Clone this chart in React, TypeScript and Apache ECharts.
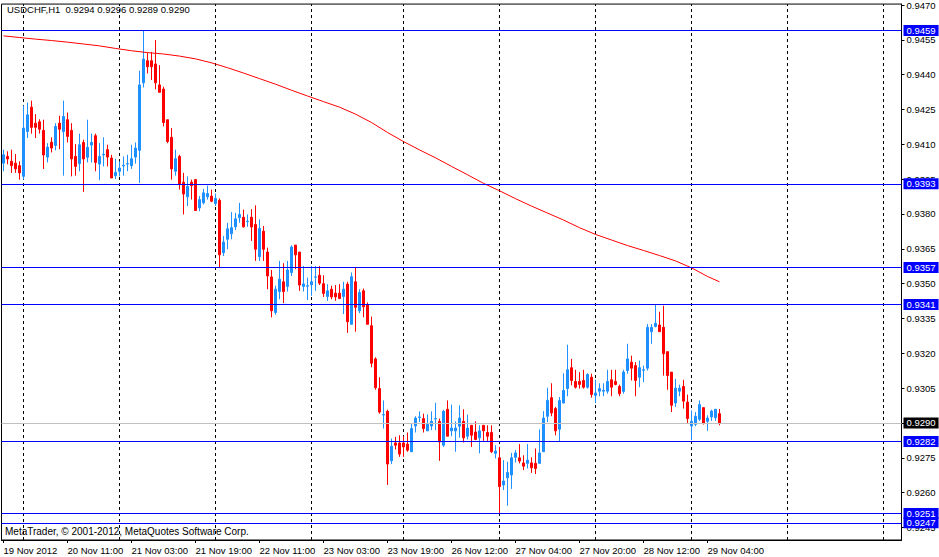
import React, { useEffect, useRef } from "react";
import * as echarts from "echarts";

const FONT = "Liberation Sans";
const BAR_COUNT = 225;
const categories = Array.from({ length: BAR_COUNT }, (_, i) => String(i));

const xTickStep = 16;
const xTickLabels = [
  "19 Nov 2012", "20 Nov 11:00", "21 Nov 03:00", "21 Nov 19:00", "22 Nov 11:00", "23 Nov 03:00",
  "23 Nov 19:00", "26 Nov 12:00", "27 Nov 04:00", "27 Nov 20:00", "28 Nov 12:00", "29 Nov 04:00",
];
const dayStartBars = [5, 29, 53, 77, 100, 124, 148, 172, 196, 220];

const yTicks = [
  0.9245, 0.926, 0.9275, 0.929, 0.9305, 0.932, 0.9335, 0.935, 0.9365, 0.938, 0.9395, 0.941, 0.9425,
  0.944, 0.9455, 0.947,
];
const levelLines = [0.9459, 0.9393, 0.9357, 0.9341, 0.9282, 0.9251, 0.9247];
const bidPrice = 0.929;
const titleText = "USDCHF,H1  0.9294 0.9296 0.9289 0.9290";
const copyrightText = "MetaTrader, \u00a9 2001-2012, MetaQuotes Software Corp.";

const opens = [
  0.94019, 0.94048, 0.94027, 0.94019, 0.94008, 0.93962, 0.94155, 0.9426, 0.94191, 0.94197,
  0.9416, 0.94045, 0.94109, 0.94095, 0.94191, 0.94155, 0.94206, 0.9416, 0.94048, 0.94017,
  0.94108, 0.94044, 0.94097, 0.94137, 0.94015, 0.94054, 0.94077, 0.94041, 0.93965, 0.93984,
  0.94007, 0.94015, 0.94008, 0.94045, 0.94074, 0.94365, 0.9446, 0.9446, 0.94446, 0.94356,
  0.94338, 0.94206, 0.9413, 0.93984, 0.94048, 0.93937, 0.93874, 0.93937, 0.93948, 0.93826,
  0.93848, 0.93874, 0.93877, 0.93845, 0.93859, 0.93633, 0.93691, 0.93715, 0.93745, 0.93784,
  0.93786, 0.93767, 0.93786, 0.93755, 0.93616, 0.93726, 0.93636, 0.93529, 0.93376, 0.93466,
  0.93508, 0.93488, 0.93548, 0.93666, 0.93636, 0.93488, 0.93489, 0.93495, 0.93528, 0.93536,
  0.935, 0.93445, 0.93476, 0.93459, 0.93459, 0.93445, 0.93498, 0.93325, 0.93508, 0.93383,
  0.93469, 0.93409, 0.93319, 0.93176, 0.93048, 0.92934, 0.9295, 0.92737, 0.92814, 0.92814,
  0.92814, 0.92809, 0.92776, 0.92887, 0.92924, 0.92919, 0.92866, 0.92887, 0.92917, 0.92907,
  0.92804, 0.92959, 0.92866, 0.92866, 0.92886, 0.92907, 0.92843, 0.9289, 0.92861, 0.92836,
  0.9289, 0.92859, 0.92859, 0.92769, 0.9275, 0.92633, 0.92664, 0.92676, 0.92752, 0.9275,
  0.92728, 0.92726, 0.92728, 0.92726, 0.92726, 0.92776, 0.92929, 0.93009, 0.92962, 0.92873,
  0.92986, 0.93048, 0.93138, 0.93079, 0.93079, 0.93083, 0.93054, 0.93097, 0.93019, 0.93037,
  0.93037, 0.93037, 0.93086, 0.93079, 0.93057, 0.93036, 0.93126, 0.93162, 0.93147, 0.93097,
  0.93127, 0.93136, 0.93293, 0.93315, 0.93322, 0.93312, 0.93207, 0.93119, 0.92986, 0.93037,
  0.93057, 0.9299, 0.92887, 0.92894, 0.92916, 0.92966, 0.92907, 0.92926, 0.92923, 0.9294,
];
const closes = [
  0.94055, 0.94037, 0.94008, 0.93994, 0.93977, 0.9417, 0.94227, 0.94173, 0.94173, 0.94165,
  0.94054, 0.94088, 0.94084, 0.94177, 0.94165, 0.9422, 0.94134, 0.94037, 0.94005, 0.94098,
  0.94037, 0.94087, 0.94108, 0.94022, 0.94048, 0.94057, 0.94045, 0.93955, 0.93979, 0.93998,
  0.9401, 0.94017, 0.94038, 0.94084, 0.94356, 0.94467, 0.94434, 0.94434, 0.94365, 0.94324,
  0.94194, 0.94112, 0.93994, 0.94038, 0.93927, 0.93886, 0.93919, 0.93922, 0.93815, 0.93862,
  0.93891, 0.93888, 0.93855, 0.93867, 0.93624, 0.93679, 0.93736, 0.93741, 0.93779, 0.93798,
  0.93745, 0.93769, 0.93744, 0.93648, 0.93738, 0.93648, 0.93533, 0.93383, 0.93476, 0.93519,
  0.93466, 0.93559, 0.93658, 0.93624, 0.93494, 0.93499, 0.93491, 0.93508, 0.93529, 0.93502,
  0.93458, 0.93469, 0.93443, 0.93443, 0.93436, 0.93476, 0.93336, 0.9353, 0.93398, 0.93462,
  0.934, 0.93325, 0.93157, 0.93052, 0.92947, 0.92936, 0.92723, 0.928, 0.92804, 0.92766,
  0.92797, 0.92783, 0.92876, 0.92921, 0.92926, 0.92876, 0.92897, 0.92907, 0.92919, 0.92818,
  0.9295, 0.92843, 0.92878, 0.92878, 0.92921, 0.92836, 0.92878, 0.92847, 0.92829, 0.92866,
  0.92866, 0.92843, 0.92776, 0.92779, 0.92626, 0.9265, 0.92687, 0.9275, 0.92771, 0.92736,
  0.92714, 0.9274, 0.92707, 0.92704, 0.92771, 0.92921, 0.92997, 0.92943, 0.92866, 0.92997,
  0.9304, 0.93129, 0.93083, 0.93054, 0.93066, 0.93054, 0.93109, 0.93023, 0.93029, 0.93048,
  0.93041, 0.93079, 0.93054, 0.93066, 0.93026, 0.93119, 0.93176, 0.93136, 0.93083, 0.93138,
  0.93129, 0.93312, 0.93312, 0.93329, 0.93293, 0.93198, 0.93104, 0.92976, 0.9305, 0.9305,
  0.92994, 0.92919, 0.92907, 0.92929, 0.92979, 0.92897, 0.92921, 0.92951, 0.92959, 0.929,
];
const lows = [
  0.93984, 0.94014, 0.93977, 0.93977, 0.93948, 0.93948, 0.94127, 0.94146, 0.94127, 0.94146,
  0.93994, 0.94022, 0.94065, 0.94074, 0.94079, 0.93965, 0.94108, 0.93962, 0.93965, 0.93984,
  0.93895, 0.94022, 0.94022, 0.93984, 0.93945, 0.94005, 0.94005, 0.93955, 0.93951, 0.93962,
  0.93965, 0.93984, 0.93994, 0.94017, 0.93934, 0.94345, 0.94405, 0.94377, 0.94337, 0.94324,
  0.94177, 0.94105, 0.93948, 0.93965, 0.93905, 0.93798, 0.93834, 0.93862, 0.93815, 0.93812,
  0.93841, 0.93862, 0.93851, 0.93834, 0.93567, 0.93619, 0.93648, 0.93691, 0.93731, 0.93762,
  0.93741, 0.93745, 0.93684, 0.93598, 0.93598, 0.93598, 0.93476, 0.93355, 0.93366, 0.93433,
  0.93416, 0.93466, 0.93533, 0.93562, 0.93469, 0.93466, 0.93429, 0.93448, 0.93469, 0.93494,
  0.93443, 0.93426, 0.93433, 0.93426, 0.93433, 0.93369, 0.93288, 0.93325, 0.93293, 0.93373,
  0.93355, 0.93325, 0.9314, 0.93043, 0.9294, 0.92876, 0.92633, 0.92723, 0.92786, 0.92754,
  0.92754, 0.92776, 0.92776, 0.92859, 0.92904, 0.92859, 0.92866, 0.92869, 0.92869, 0.92737,
  0.92797, 0.92843, 0.92843, 0.92776, 0.92837, 0.92816, 0.92829, 0.92797, 0.92826, 0.92769,
  0.92823, 0.92823, 0.92771, 0.92747, 0.92511, 0.92611, 0.92544, 0.92616, 0.9273, 0.92726,
  0.92697, 0.92704, 0.92685, 0.9268, 0.92726, 0.92776, 0.92904, 0.92929, 0.92847, 0.92818,
  0.92984, 0.93015, 0.93062, 0.93048, 0.93048, 0.93048, 0.93048, 0.93009, 0.92986, 0.93015,
  0.93015, 0.93026, 0.93015, 0.93062, 0.93015, 0.93026, 0.93112, 0.93083, 0.93015, 0.93054,
  0.93076, 0.93126, 0.93241, 0.93312, 0.93293, 0.93104, 0.93043, 0.92947, 0.92969, 0.93015,
  0.92962, 0.929, 0.92826, 0.92886, 0.92909, 0.92894, 0.92866, 0.92909, 0.92909, 0.9289,
];
const highs = [
  0.94077, 0.9407, 0.94077, 0.94058, 0.94027, 0.94267, 0.9428, 0.94288, 0.9423, 0.94208,
  0.94206, 0.94105, 0.9413, 0.94191, 0.94223, 0.94288, 0.94237, 0.94191, 0.94101, 0.94146,
  0.9412, 0.94206, 0.94146, 0.94146, 0.94105, 0.9413, 0.94098, 0.94055, 0.94038, 0.94027,
  0.94048, 0.94055, 0.94098, 0.94108, 0.94417, 0.9459, 0.94494, 0.94498, 0.94549, 0.94441,
  0.94348, 0.94206, 0.9417, 0.94077, 0.94055, 0.93977, 0.93962, 0.93948, 0.93951, 0.93877,
  0.93908, 0.93922, 0.93905, 0.93888, 0.93867, 0.93705, 0.93762, 0.93808, 0.93805, 0.93848,
  0.93819, 0.93798, 0.93821, 0.93837, 0.93777, 0.93748, 0.93655, 0.93559, 0.93491, 0.93598,
  0.93588, 0.93598, 0.93665, 0.93666, 0.93636, 0.93576, 0.93526, 0.93576, 0.93576, 0.93576,
  0.93536, 0.93498, 0.93491, 0.93494, 0.93498, 0.93508, 0.93508, 0.93548, 0.93569, 0.93476,
  0.93479, 0.93419, 0.93358, 0.93183, 0.93097, 0.92997, 0.92957, 0.92833, 0.9284, 0.92847,
  0.92843, 0.92859, 0.92897, 0.92929, 0.9295, 0.9294, 0.92937, 0.9295, 0.92987, 0.92919,
  0.92957, 0.92997, 0.92979, 0.92907, 0.92976, 0.92959, 0.92936, 0.9289, 0.92907, 0.9289,
  0.9289, 0.9289, 0.9289, 0.92804, 0.92797, 0.9274, 0.92733, 0.92771, 0.92783, 0.92809,
  0.92761, 0.92809, 0.92752, 0.9279, 0.92872, 0.92951, 0.93052, 0.93071, 0.92969, 0.93012,
  0.93114, 0.93237, 0.93176, 0.93129, 0.93119, 0.93129, 0.93114, 0.93112, 0.93086, 0.93071,
  0.93071, 0.93129, 0.93129, 0.93129, 0.93065, 0.93129, 0.93241, 0.9319, 0.93162, 0.93169,
  0.93147, 0.93326, 0.93326, 0.9341, 0.93379, 0.93405, 0.93207, 0.93119, 0.9309, 0.93065,
  0.93086, 0.93022, 0.92954, 0.92947, 0.92997, 0.92969, 0.92933, 0.92957, 0.92959, 0.9296,
];

const maBars = [
  0, 4, 8, 12, 16, 20, 24, 28, 32, 36, 40, 44, 48, 52, 56, 60, 64, 68, 72, 76, 80, 84, 88, 92,
  96, 100, 104, 108, 112, 116, 120, 124, 128, 132, 136, 140, 144, 148, 152, 156, 160, 164, 168,
  172, 176, 179,
];
const maValues = [
  0.94567, 0.9456, 0.94553, 0.94547, 0.9454, 0.94532, 0.94524, 0.94513, 0.94503, 0.94495, 0.94489,
  0.9448, 0.94468, 0.94451, 0.9443, 0.94407, 0.94383, 0.94359, 0.94333, 0.94308, 0.94284, 0.9426,
  0.9423, 0.94194, 0.94151, 0.94112, 0.94076, 0.94042, 0.94005, 0.93969, 0.93932, 0.939, 0.93866,
  0.93834, 0.93804, 0.93774, 0.93741, 0.93712, 0.93688, 0.93664, 0.93643, 0.93621, 0.93598,
  0.93568, 0.93531, 0.93508,
];

const BULL = "#1e90ff";
const BEAR = "#ff0000";

export default function App() {
  const ref = useRef<HTMLDivElement>(null);

  useEffect(() => {
    if (!ref.current) return;
    const chart = echarts.init(ref.current, undefined, { renderer: "svg" });

    const candleData = opens.map((o, i) => [o, closes[i], lows[i], highs[i]]);
    const maData = maBars.map((b, k) => [b, maValues[k]]);
    const showTick = (index: number) => index % xTickStep === 0 && index / xTickStep < xTickLabels.length;

    const makeLabel = (text: string, bg: string) => ({
      show: true,
      position: "end",
      distance: 2,
      formatter: () => text,
      color: "#ffffff",
      backgroundColor: bg,
      padding: [1, 3, 0, 3],
      fontFamily: FONT,
      fontSize: 9.5,
    });

    const levelMarks = levelLines.map((v) => ({
      yAxis: v,
      lineStyle: { color: "#0000ff", type: "solid", width: 1 },
      label: makeLabel(v.toFixed(4), "#0000ff"),
    }));
    const bidMark = {
      yAxis: bidPrice,
      lineStyle: { color: "#c0c0c0", type: "solid", width: 1 },
      label: makeLabel(bidPrice.toFixed(4), "#000000"),
    };
    const dayMarks = dayStartBars.map((b) => ({
      xAxis: String(b),
      lineStyle: { color: "#000000", type: [3, 3], width: 1 },
      label: { show: false },
    }));

    chart.setOption({
      animation: false,
      backgroundColor: "#ffffff",
      grid: {
        left: 1.5,
        top: 2,
        width: 900,
        height: 538,
        show: true,
        borderColor: "#000000",
        borderWidth: 1,
        backgroundColor: "transparent",
      },
      xAxis: {
        type: "category",
        data: categories,
        boundaryGap: true,
        axisLine: { show: true, lineStyle: { color: "#000000", width: 1 } },
        axisTick: {
          show: true,
          alignWithLabel: true,
          interval: (index: number) => showTick(index),
          length: 3,
          lineStyle: { color: "#000000" },
        },
        axisLabel: {
          interval: (index: number) => showTick(index),
          formatter: (_v: string, index: number) => xTickLabels[index / xTickStep] ?? "",
          align: "left",
          margin: 5,
          color: "#000000",
          fontFamily: FONT,
          fontSize: 9.5,
        },
        splitLine: { show: false },
      },
      yAxis: {
        type: "value",
        position: "right",
        min: 0.92396,
        max: 0.94704,
        axisLine: { show: true, lineStyle: { color: "#000000", width: 1 } },
        axisTick: { show: true, customValues: yTicks, length: 3, lineStyle: { color: "#000000" } },
        axisLabel: {
          customValues: yTicks,
          formatter: (v: number) => v.toFixed(4),
          margin: 5,
          color: "#000000",
          fontFamily: FONT,
          fontSize: 9.5,
        },
        splitLine: { show: false },
      },
      series: [
        {
          type: "candlestick",
          data: candleData,
          barWidth: 2,
          z: 2,
          itemStyle: {
            color: BULL,
            color0: BEAR,
            borderColor: BULL,
            borderColor0: BEAR,
            borderWidth: 1,
          },
          markLine: {
            silent: true,
            z: 1,
            precision: 5,
            symbol: ["none", "none"],
            animation: false,
            data: dayMarks,
          },
        },
        {
          type: "line",
          data: maData,
          symbol: "none",
          showSymbol: false,
          clip: false,
          z: 3,
          lineStyle: { color: "#ff0000", width: 1 },
          markLine: {
            silent: true,
            precision: 5,
            symbol: ["none", "none"],
            animation: false,
            data: [...levelMarks, bidMark],
          },
        },
      ],
      graphic: [
        {
          type: "text",
          left: 7,
          top: 4,
          style: { text: titleText, fill: "#000000", font: `9.5px "${FONT}"` },
        },
        {
          type: "text",
          left: 5,
          top: 526,
          style: { text: copyrightText, fill: "#000000", font: `10px "${FONT}"` },
        },
      ],
    });

    return () => chart.dispose();
  }, []);

  return (
    <div
      ref={ref}
      style={{ position: "fixed", left: 0, top: 0, width: 939, height: 557, background: "#ffffff" }}
    />
  );
}
